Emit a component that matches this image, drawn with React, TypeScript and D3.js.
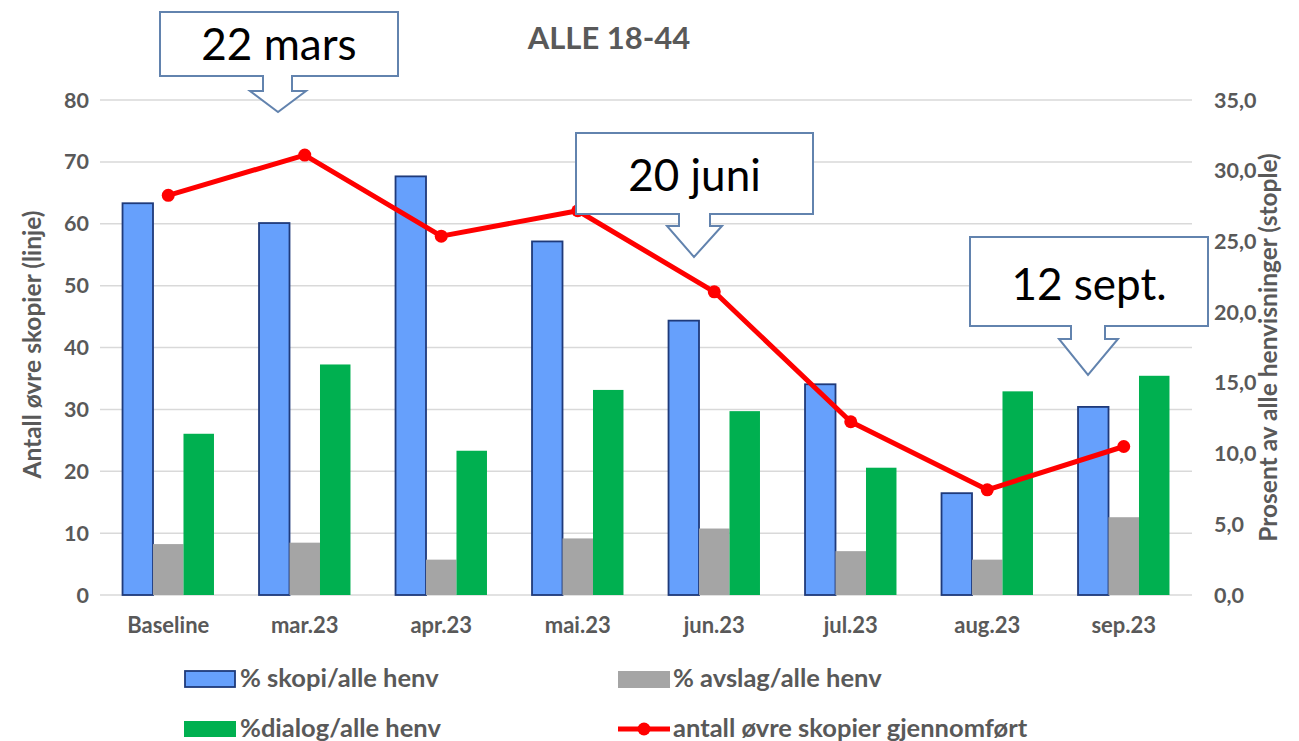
import React from 'react';
import * as d3 from 'd3';

// categories and series
const categories = ['Baseline', 'mar.23', 'apr.23', 'mai.23', 'jun.23', 'jul.23', 'aug.23', 'sep.23'];
const skopiPct = [27.7, 26.3, 29.6, 25.0, 19.4, 14.9, 7.2, 13.3];
const avslagPct = [3.6, 3.7, 2.5, 4.0, 4.7, 3.1, 2.5, 5.5];
const dialogPct = [11.4, 16.3, 10.2, 14.5, 13.0, 9.0, 14.4, 15.5];
const antallSkopier = [64.6, 71.1, 58.0, 62.1, 49.0, 28.0, 17.0, 24.0];

const leftTicks = [0, 10, 20, 30, 40, 50, 60, 70, 80];
const rightTicks = [0, 5, 10, 15, 20, 25, 30, 35];

const barSeries = ['skopi', 'avslag', 'dialog'];
const barValues = [skopiPct, avslagPct, dialogPct];

const W = 1299;
const H = 741;
const plot = { left: 100, right: 1192, top: 100, bottom: 595 };

const FONT = 'Lato, "Open Sans", sans-serif';
const GREY_TEXT = '#595959';
const BLUE = '#66a0fc';
const BLUE_EDGE = '#1f3a7a';
const GREY = '#a5a5a5';
const GREEN = '#00b050';
const RED = '#ff0000';
const CALLOUT = '#6283ae';

const fills = [BLUE, GREY, GREEN];

// callout annotations (layout only)
const callouts = [
  { text: '22 mars', l: 160, r: 398, t: 12, b: 76, sl: 263, sr: 292, sb: 91, hl: 250, hr: 306, tx: 278, ty: 112, ly: 60 },
  { text: '20 juni', l: 576, r: 813, t: 133, b: 214, sl: 679, sr: 710, sb: 226, hl: 667, hr: 722, tx: 694, ty: 257, ly: 191 },
  { text: '12 sept.', l: 970, r: 1208, t: 237, b: 326, sl: 1071, sr: 1105, sb: 339, hl: 1059, hr: 1118, tx: 1088, ty: 375, ly: 300 },
];

function calloutPath(c: typeof callouts[number]) {
  const p = d3.path();
  p.moveTo(c.l, c.t);
  p.lineTo(c.r, c.t);
  p.lineTo(c.r, c.b);
  p.lineTo(c.sr, c.b);
  p.lineTo(c.sr, c.sb);
  p.lineTo(c.hr, c.sb);
  p.lineTo(c.tx, c.ty);
  p.lineTo(c.hl, c.sb);
  p.lineTo(c.sl, c.sb);
  p.lineTo(c.sl, c.b);
  p.lineTo(c.l, c.b);
  p.closePath();
  return p.toString();
}

export default function App() {
  const x = d3.scaleBand<string>().domain(categories).range([plot.left, plot.right])
    .paddingInner(0.33).paddingOuter(0.165);
  const xs = d3.scaleBand<string>().domain(barSeries).range([0, x.bandwidth()]);
  const yL = d3.scaleLinear().domain([0, 80]).range([plot.bottom, plot.top]);
  const yR = d3.scaleLinear().domain([0, 35]).range([plot.bottom, plot.top]);

  const line = d3.line<number>()
    .x((_, i) => (x(categories[i]) as number) + x.bandwidth() / 2)
    .y(d => yL(d));

  const midY = (plot.top + plot.bottom) / 2;

  return (
    <svg width={W} height={H} style={{ position: 'absolute', left: 0, top: 0, background: '#fff' }}
      fontFamily={FONT}>
      <text x={609} y={49} textAnchor="middle" fontSize={31} fontWeight={700} fill={GREY_TEXT}>ALLE 18-44</text>

      {/* gridlines */}
      {leftTicks.map(t => (
        <line key={t} x1={plot.left} x2={plot.right} y1={yL(t)} y2={yL(t)}
          stroke="#d9d9d9" strokeWidth={1.5} />
      ))}

      {/* left axis labels */}
      {leftTicks.map(t => (
        <text key={t} x={89} y={yL(t)} dy="0.35em" textAnchor="end" fontSize={21.5}
          fontWeight={700} fill={GREY_TEXT}>{t}</text>
      ))}
      {/* right axis labels */}
      {rightTicks.map(t => (
        <text key={t} x={1214} y={yR(t)} dy="0.35em" textAnchor="start" fontSize={21.5}
          fontWeight={700} fill={GREY_TEXT}>{d3.format('.1f')(t).replace('.', ',')}</text>
      ))}

      <text transform={`translate(41,${midY - 3}) rotate(-90)`} textAnchor="middle" fontSize={24.5}
        fontWeight={700} fill={GREY_TEXT}>Antall øvre skopier (linje)</text>
      <text transform={`translate(1277,${midY}) rotate(-90)`} textAnchor="middle" fontSize={24.5}
        fontWeight={700} fill={GREY_TEXT}>Prosent av alle henvisninger (stople)</text>

      {/* bars */}
      {categories.map((c, i) => (
        <g key={c} transform={`translate(${x(c)},0)`}>
          {barSeries.map((s, k) => {
            const v = barValues[k][i];
            const x0 = xs(s) as number;
            return (
              <rect key={s} x={x0} y={yR(v)} width={xs.bandwidth()} height={yR(0) - yR(v)}
                fill={fills[k]} stroke={k === 0 ? BLUE_EDGE : 'none'} strokeWidth={k === 0 ? 1.8 : 0} />
            );
          })}
        </g>
      ))}

      {/* x labels */}
      {categories.map(c => (
        <text key={c} x={(x(c) as number) + x.bandwidth() / 2} y={633} textAnchor="middle"
          fontSize={22} fontWeight={700} fill={GREY_TEXT}>{c}</text>
      ))}

      {/* line */}
      <path d={line(antallSkopier) || ''} fill="none" stroke={RED} strokeWidth={5} strokeLinejoin="round" />
      {antallSkopier.map((v, i) => (
        <circle key={i} cx={(x(categories[i]) as number) + x.bandwidth() / 2} cy={yL(v)} r={6.5} fill={RED} />
      ))}

      {/* callouts */}
      {callouts.map(c => (
        <g key={c.text}>
          <path d={calloutPath(c)} fill="#fff" stroke={CALLOUT} strokeWidth={2} />
          <text x={(c.l + c.r) / 2} y={c.ly} textAnchor="middle" fontSize={44} fill="#000">{c.text}</text>
        </g>
      ))}

      {/* legend */}
      <g fontSize={25.5} fontWeight={700} fill={GREY_TEXT}>
        <rect x={185} y={671} width={50} height={16} fill={BLUE} stroke={BLUE_EDGE} strokeWidth={1.8} />
        <text x={240} y={687}>% skopi/alle henv</text>
        <rect x={618} y={671} width={52} height={17} fill={GREY} />
        <text x={673} y={687}>% avslag/alle henv</text>
        <rect x={184} y={721} width={52} height={16} fill={GREEN} />
        <text x={240} y={737}>%dialog/alle henv</text>
        <line x1={618} x2={670} y1={729} y2={729} stroke={RED} strokeWidth={5} />
        <circle cx={644} cy={729} r={6.5} fill={RED} />
        <text x={673} y={737}>antall øvre skopier gjennomført</text>
      </g>
    </svg>
  );
}
